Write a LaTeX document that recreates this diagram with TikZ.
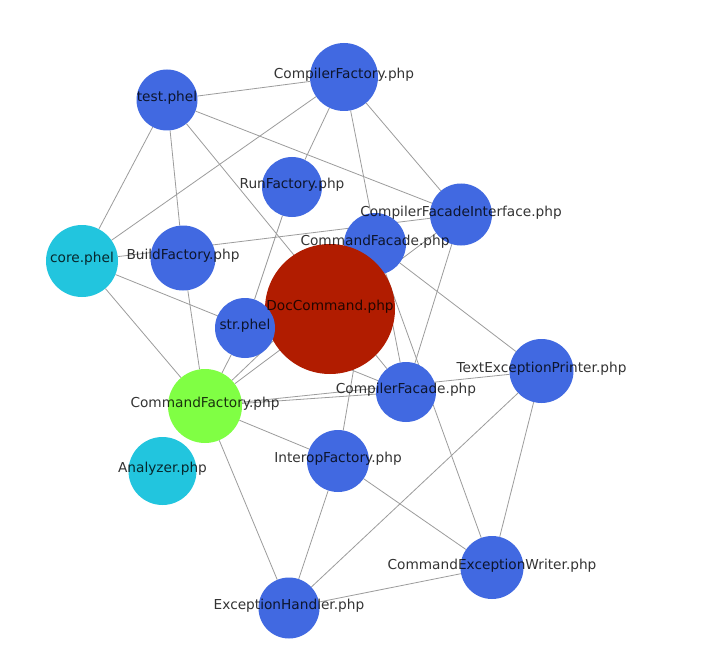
\documentclass[tikz,border=0pt]{standalone}
\usepackage{fontspec}
\setmainfont{DejaVu Sans}
\definecolor{nblue}{HTML}{4169E1}
\definecolor{nred}{HTML}{B11C00}
\definecolor{ngreen}{HTML}{80FF44}
\definecolor{ncyan}{HTML}{22C5DE}
\definecolor{edgecol}{HTML}{9C9C9C}
\pgfdeclarelayer{bglayer}
\pgfdeclarelayer{edgelayer}
\pgfsetlayers{bglayer,edgelayer,main}
\begin{document}
\begin{tikzpicture}[x=1pt,y=-1pt,
  ball/.style={circle, inner sep=0pt, draw=none},
  bluen/.style={ball, fill=nblue},
  lab/.style={anchor=base, inner sep=0pt, font=\fontsize{13.7}{16}\selectfont, text=black, text opacity=0.8},
  link/.style={draw=edgecol, line width=0.8pt}]
\useasboundingbox (0,0) rectangle (706,655);
\begin{pgfonlayer}{bglayer}
\fill[white] (0,0) rectangle (706,655);
\end{pgfonlayer}
% nodes
\node[bluen, minimum size=61pt] (test) at (167,100) {};
\node[bluen, minimum size=68pt] (cfac) at (344,77) {};
\node[bluen, minimum size=60pt] (run) at (292,187) {};
\node[bluen, minimum size=62pt] (cfi) at (461,214.5) {};
\node[bluen, minimum size=62pt] (cmdfacade) at (375,244) {};
\node[ball, fill=ncyan, minimum size=72pt] (core) at (82,261) {};
\node[bluen, minimum size=65pt] (build) at (183,258) {};
\node[ball, fill=nred, minimum size=130pt] (doc) at (330,309) {};
\node[bluen, minimum size=60pt] (str) at (245,328) {};
\node[bluen, minimum size=64pt] (tep) at (541.5,371) {};
\node[bluen, minimum size=60pt] (compfacade) at (406,392) {};
\node[ball, fill=ngreen, minimum size=74pt] (cmdfac) at (205,406) {};
\node[ball, fill=ncyan, minimum size=68pt] (analyzer) at (162.5,471) {};
\node[bluen, minimum size=62pt] (interop) at (338,461) {};
\node[bluen, minimum size=63pt] (cew) at (492,567.5) {};
\node[bluen, minimum size=61pt] (exh) at (289,608) {};
% edges
\begin{pgfonlayer}{edgelayer}
\draw[link] (test) -- (cfac);
\draw[link] (test) -- (core);
\draw[link] (test) -- (build);
\draw[link] (test) -- (compfacade);
\draw[link] (test) -- (cfi);
\draw[link] (cfac) -- (core);
\draw[link] (cfac) -- (run);
\draw[link] (cfac) -- (compfacade);
\draw[link] (cfac) -- (cfi);
\draw[link] (run) -- (str);
\draw[link] (core) -- (cfi);
\draw[link] (core) -- (compfacade);
\draw[link] (core) -- (cmdfac);
\draw[link] (build) -- (cmdfac);
\draw[link] (str) -- (cmdfac);
\draw[link] (cmdfac) -- (cmdfacade);
\draw[link] (cmdfac) -- (cfi);
\draw[link] (cmdfac) -- (compfacade);
\draw[link] (cmdfac) -- (tep);
\draw[link] (cmdfac) -- (interop);
\draw[link] (cmdfac) -- (exh);
\draw[link] (cmdfacade) -- (interop);
\draw[link] (cmdfacade) -- (tep);
\draw[link] (cmdfacade) -- (cew);
\draw[link] (cfi) -- (compfacade);
\draw[link] (interop) -- (exh);
\draw[link] (interop) -- (cew);
\draw[link] (tep) -- (exh);
\draw[link] (tep) -- (cew);
\draw[link] (cew) -- (exh);
\end{pgfonlayer}
% labels
\node[lab] (test-l) at (167,101.5) {test.phel};
\node[lab] (cfac-l) at (344,78.5) {CompilerFactory.php};
\node[lab] (run-l) at (292,188.5) {RunFactory.php};
\node[lab] (cfi-l) at (461,216) {CompilerFacadeInterface.php};
\node[lab] (cmdfacade-l) at (375,245.5) {CommandFacade.php};
\node[lab] (core-l) at (82,262.5) {core.phel};
\node[lab] (build-l) at (183,259.5) {BuildFactory.php};
\node[lab] (doc-l) at (330,310.5) {DocCommand.php};
\node[lab] (str-l) at (245,329.5) {str.phel};
\node[lab] (tep-l) at (541.5,372.5) {TextExceptionPrinter.php};
\node[lab] (compfacade-l) at (406,393.5) {CompilerFacade.php};
\node[lab] (cmdfac-l) at (205,407.5) {CommandFactory.php};
\node[lab] (analyzer-l) at (162.5,472.5) {Analyzer.php};
\node[lab] (interop-l) at (338,462.5) {InteropFactory.php};
\node[lab] (cew-l) at (492,569) {CommandExceptionWriter.php};
\node[lab] (exh-l) at (289,609.5) {ExceptionHandler.php};
\end{tikzpicture}
\end{document}
